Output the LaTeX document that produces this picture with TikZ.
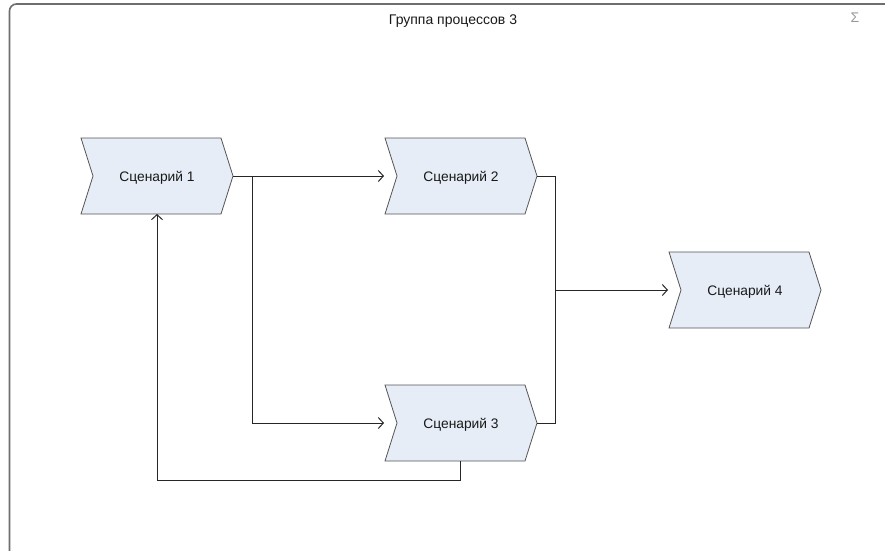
\documentclass[tikz,border=0pt]{standalone}
\usepackage{fontspec}
\setmainfont{Liberation Sans}
\usetikzlibrary{arrows.meta}
\definecolor{chfill}{HTML}{E6EDF7}
\definecolor{chline}{HTML}{555555}
\definecolor{frameline}{HTML}{6E6E6E}
\tikzset{
  chevbox/.style={fill=chfill, draw=chline, line width=0.8pt, line join=miter},
  chevtext/.style={font=\fontsize{13.8}{16}\selectfont, text=black!90, inner sep=0pt},
  conn/.style={draw=black!85, line width=1pt},
  arr/.style={conn, -{Straight Barb[length=5pt,width=11pt,line width=1pt]}},
}
% \chev{name}{left x}{top y}{text}
\newcommand\chev[4]{%
  \draw[chevbox] (#2,#3) -- ++(140,0) -- ++(12,38) -- ++(-12,38) -- ++(-140,0) -- ++(12,-38) -- cycle;
  \node[chevtext] (#1) at ({#2+76},{#3+39.5}) {#4};
  \coordinate (#1-tip) at ({#2+152},{#3+38});
  \coordinate (#1-in) at ({#2-1},{#3+38});
}
\begin{document}
\begin{tikzpicture}[x=1pt,y=-1pt]
\useasboundingbox (0,0) rectangle (885,550);
\fill[white] (0,0) rectangle (885,550);
% frame
\draw[frameline, line width=1.6pt, rounded corners=7pt] (9.5,600) -- (9.5,4) -- (900,4) -- (900,600);
\node[font=\fontsize{14}{16}\selectfont, text=black!90, inner sep=0pt] (title) at (453,21) {Группа процессов 3};
\node[font=\fontsize{14}{16}\selectfont, text=black!40, inner sep=0pt] (sigma) at (855,18) {Σ};
% shapes
\chev{s1}{81}{138}{Сценарий 1}
\chev{s2}{385}{138}{Сценарий 2}
\chev{s3}{385}{385}{Сценарий 3}
\chev{s4}{669}{252}{Сценарий 4}
\coordinate (j1) at (252,176);
\coordinate (j2) at (555,290);
\coordinate (s3-bot) at (460,461);
\coordinate (s1-bot) at (157,214);
% connectors
\draw[arr] (s1-tip) -- (s2-in);
\draw[arr] (j1) |- (s3-in);
\draw[conn] (s2-tip) -| (j2);
\draw[conn] (s3-tip) -| (j2);
\draw[arr] (j2) -- (s4-in);
\draw[arr] (s3-bot) -- ++(0,19) -| (s1-bot);
\end{tikzpicture}
\end{document}
